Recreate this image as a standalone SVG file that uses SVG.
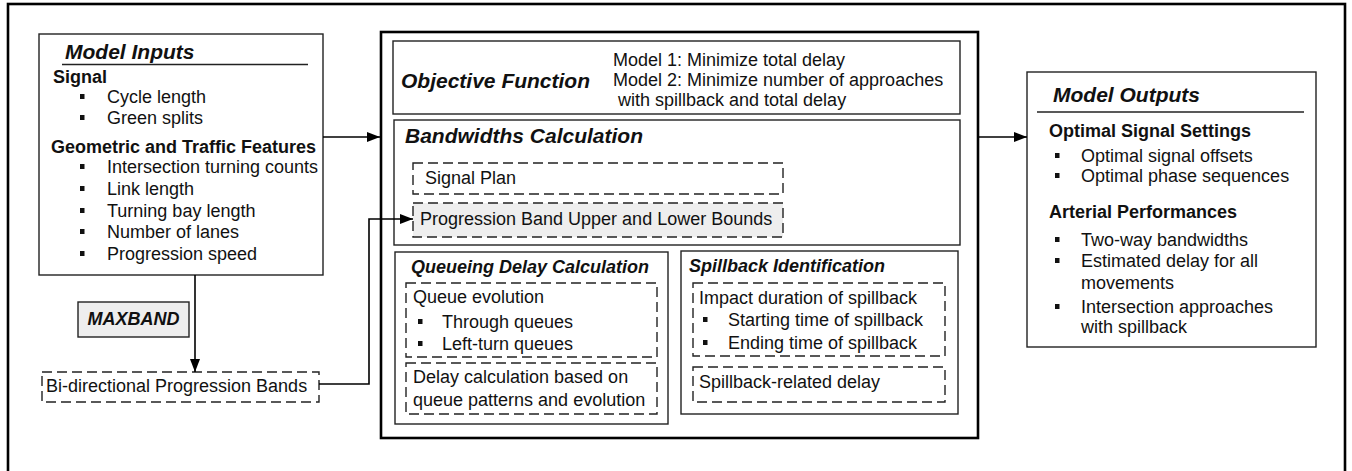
<svg xmlns="http://www.w3.org/2000/svg" width="1352" height="471" viewBox="0 0 1352 471">
<defs>
<style>
text{font-family:"Liberation Sans",Arial,sans-serif;font-size:18px;fill:#111}
.t{font-size:21px;font-weight:bold;font-style:italic}
.st{font-weight:bold;font-style:italic}
.b{font-weight:bold}
.box{fill:#fff;stroke:#222;stroke-width:1.4}
.thick{fill:none;stroke:#000;stroke-width:2.6}
.dash{fill:#fff;stroke:#222;stroke-width:1.4;stroke-dasharray:10 5}
.gray{fill:#eeeeee}
.conn{fill:none;stroke:#000;stroke-width:1.6}
.ul{stroke:#222;stroke-width:1.4}
.bl{fill:#111}
</style>
<marker id="arr" markerUnits="userSpaceOnUse" markerWidth="13" markerHeight="10" refX="13" refY="5" orient="auto">
<path d="M0,0 L13,5 L0,10 z" fill="#000"/>
</marker>
<rect id="bul" width="4.5" height="5" class="bl"/>
</defs>
<rect id="frame" x="8" y="4" width="1337" height="485" class="thick"/>

<g id="model-inputs">
<rect x="39" y="34" width="284" height="241" class="box"/>
<text x="65" y="59" class="t">Model Inputs</text>
<line x1="62" y1="64.5" x2="308" y2="64.5" class="ul"/>
<text x="53" y="83" class="b">Signal</text>
<use href="#bul" x="80" y="94"/><text x="107" y="103">Cycle length</text>
<use href="#bul" x="80" y="115"/><text x="107" y="124">Green splits</text>
<text x="51" y="153" class="b">Geometric and Traffic Features</text>
<use href="#bul" x="80" y="164"/><text x="107" y="173">Intersection turning counts</text>
<use href="#bul" x="80" y="186"/><text x="107" y="195">Link length</text>
<use href="#bul" x="80" y="208"/><text x="107" y="217">Turning bay length</text>
<use href="#bul" x="80" y="229"/><text x="107" y="238">Number of lanes</text>
<use href="#bul" x="80" y="251"/><text x="107" y="260">Progression speed</text>
</g>

<g id="maxband">
<rect x="78" y="302" width="111" height="35" class="box gray"/>
<text x="133.5" y="325" class="st" text-anchor="middle">MAXBAND</text>
</g>

<g id="bidirectional">
<rect x="42" y="372" width="277" height="30" class="dash"/>
<text x="46" y="392">Bi-directional Progression Bands</text>
</g>

<g id="model-core">
<rect x="381" y="32" width="597" height="406" class="thick"/>
</g>

<g id="objective">
<rect x="393" y="41" width="567" height="73" class="box"/>
<text x="401" y="88" class="t">Objective Function</text>
<text x="613" y="66">Model 1: Minimize total delay</text>
<text x="613" y="86">Model 2: Minimize number of approaches</text>
<text x="618" y="106">with spillback and total delay</text>
</g>

<g id="bandwidths">
<rect x="394" y="120" width="566" height="125" class="box"/>
<text x="405" y="143" class="t">Bandwidths Calculation</text>
<rect x="413" y="163" width="370" height="31" class="dash"/>
<text x="425" y="184">Signal Plan</text>
<rect x="413" y="203" width="370" height="34" class="dash gray"/>
<text x="420" y="225">Progression Band Upper and Lower Bounds</text>
</g>

<g id="queueing">
<rect x="395" y="252" width="273" height="172" class="box"/>
<text x="411" y="273" class="st">Queueing Delay Calculation</text>
<rect x="406" y="283" width="251" height="74" class="dash"/>
<text x="413" y="303">Queue evolution</text>
<use href="#bul" x="418" y="319"/><text x="442" y="328">Through queues</text>
<use href="#bul" x="418" y="341"/><text x="442" y="350">Left-turn queues</text>
<rect x="406" y="363" width="251" height="51" class="dash"/>
<text x="413" y="383">Delay calculation based on</text>
<text x="413" y="406">queue patterns and evolution</text>
</g>

<g id="spillback">
<rect x="681" y="251" width="277" height="163" class="box"/>
<text x="689" y="272" class="st">Spillback Identification</text>
<rect x="693" y="283" width="252" height="73" class="dash"/>
<text x="699" y="304">Impact duration of spillback</text>
<use href="#bul" x="703" y="317"/><text x="728" y="326">Starting time of spillback</text>
<use href="#bul" x="703" y="340"/><text x="728" y="349">Ending time of spillback</text>
<rect x="693" y="367" width="252" height="35" class="dash"/>
<text x="699" y="388">Spillback-related delay</text>
</g>

<g id="model-outputs">
<rect x="1027" y="72" width="289" height="275" class="box"/>
<text x="1053" y="102" class="t">Model Outputs</text>
<line x1="1037" y1="112" x2="1304" y2="112" class="ul"/>
<text x="1049" y="137" class="b">Optimal Signal Settings</text>
<use href="#bul" x="1055" y="153"/><text x="1081" y="162">Optimal signal offsets</text>
<use href="#bul" x="1055" y="173"/><text x="1081" y="182">Optimal phase sequences</text>
<text x="1049" y="218" class="b">Arterial Performances</text>
<use href="#bul" x="1055" y="237"/><text x="1081" y="246">Two-way bandwidths</text>
<use href="#bul" x="1055" y="258"/><text x="1081" y="267">Estimated delay for all</text>
<text x="1081" y="289">movements</text>
<use href="#bul" x="1055" y="304"/><text x="1081" y="313">Intersection approaches</text>
<text x="1081" y="333">with spillback</text>
</g>

<g id="connectors">
<line x1="323" y1="137" x2="380" y2="137" class="conn" marker-end="url(#arr)"/>
<line x1="195" y1="275" x2="195" y2="372" class="conn" marker-end="url(#arr)"/>
<path d="M319,384 H369 V219 H413" class="conn" marker-end="url(#arr)"/>
<line x1="978" y1="137" x2="1027" y2="137" class="conn" marker-end="url(#arr)"/>
</g>
</svg>
